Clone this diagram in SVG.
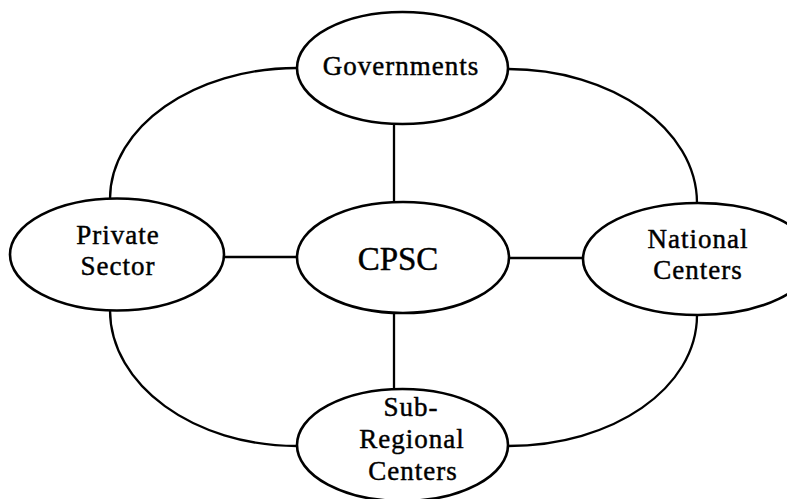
<svg xmlns="http://www.w3.org/2000/svg" width="787" height="499" viewBox="0 0 787 499">
<style>
.node ellipse{fill:#fff;stroke:#000;stroke-width:2.6}
.node text{font-family:"Liberation Serif","Times New Roman",serif;font-size:27px;letter-spacing:1px;fill:#000;stroke:#000;stroke-width:0.45;text-anchor:middle}
.node text.big{font-size:33px;letter-spacing:0}
#connectors path{fill:none;stroke:#000;stroke-width:2.3}
</style>
<rect width="787" height="499" fill="#fff"/>
<g id="connectors">
<path d="M394,124 L394,202"/>
<path d="M394,313 L394,389"/>
<path d="M223,257 L297,257"/>
<path d="M509,258 L583,258"/>
<path d="M297,68 C194,68 110,127 110,199"/>
<path d="M508,69 C612,69 697,129 697,203"/>
<path d="M110,310 C110,385 194,446 297,446"/>
<path d="M697,315 C697,388 613,446 508,446"/>
</g>
<g id="governments" class="node">
<ellipse cx="402.5" cy="68" rx="105.5" ry="56"/>
<text x="401" y="75">Governments</text>
</g>
<g id="cpsc" class="node">
<ellipse cx="403" cy="257.5" rx="106" ry="55.5"/>
<text class="big" x="398" y="270">CPSC</text>
</g>
<g id="private-sector" class="node">
<ellipse cx="117" cy="254.5" rx="107" ry="56"/>
<text x="118" y="244">Private</text>
<text x="118" y="275">Sector</text>
</g>
<g id="national-centers" class="node">
<ellipse cx="698" cy="259" rx="115" ry="56"/>
<text x="698" y="248">National</text>
<text x="698" y="279">Centers</text>
</g>
<g id="sub-regional-centers" class="node">
<ellipse cx="402.5" cy="445" rx="105.5" ry="56"/>
<text x="411" y="416">Sub-</text>
<text x="412" y="448">Regional</text>
<text x="413" y="480">Centers</text>
</g>
</svg>
